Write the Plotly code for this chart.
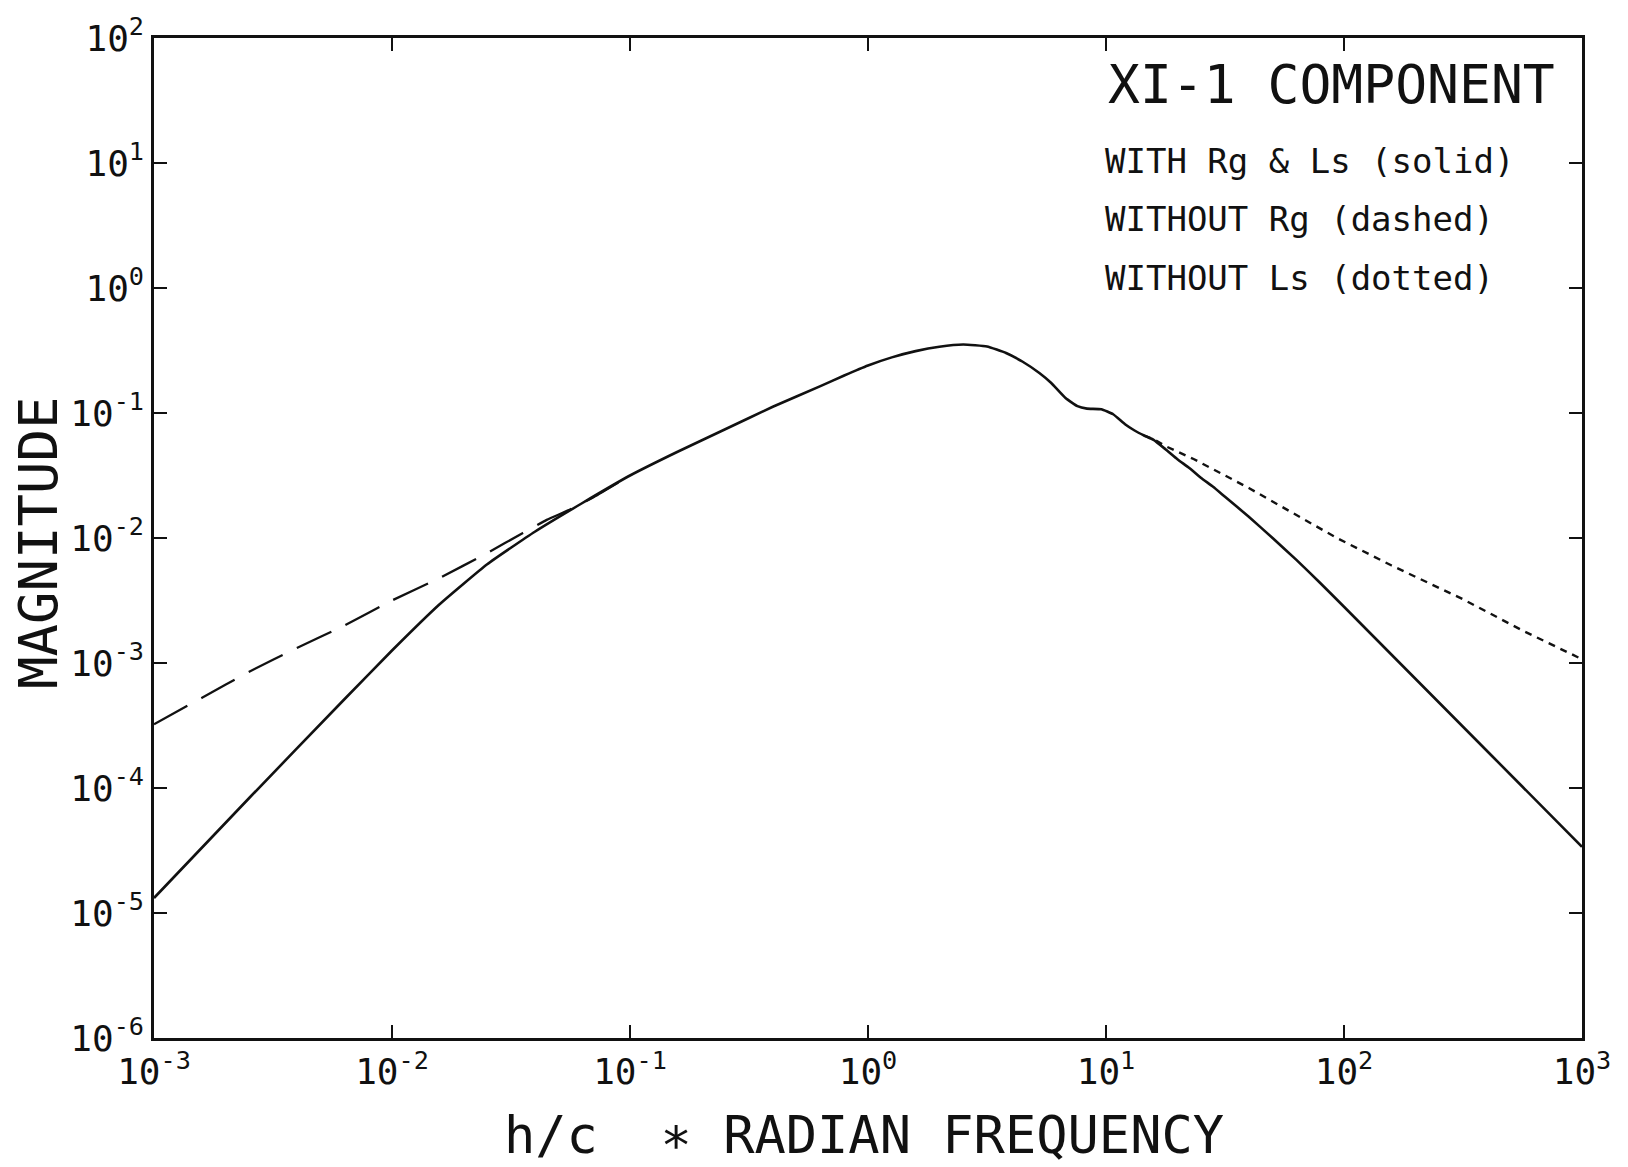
import numpy as np
import plotly.graph_objects as go

# Response curves, stored as log10(h/c * radian frequency) and log10(magnitude)
solid_logw = [-3.0, -2.6, -2.2, -2.0, -1.8, -1.6, -1.4, -1.2, -1.0, -0.8, -0.6,
              -0.4, -0.2, -0.1, 0.0, 0.1, 0.2, 0.3, 0.4, 0.5, 0.58, 0.65,
              0.72, 0.77, 0.83, 0.88, 0.92, 0.98, 1.03, 1.08, 1.12, 1.16, 1.20,
              1.25, 1.30, 1.35, 1.40, 1.45, 1.50, 1.60, 1.70, 1.80, 1.90,
              2.00, 2.25, 2.50, 2.75, 3.00]
solid_logm = [-4.88, -4.08, -3.29, -2.90, -2.53, -2.21, -1.95, -1.72, -1.50, -1.31, -1.13,
              -0.95, -0.785, -0.70, -0.62, -0.555, -0.505, -0.47, -0.452, -0.468, -0.52, -0.59,
              -0.68, -0.76, -0.88, -0.945, -0.965, -0.97, -1.01, -1.09, -1.14, -1.18, -1.215,
              -1.29, -1.37, -1.44, -1.52, -1.59, -1.67, -1.83, -2.00, -2.175, -2.36,
              -2.55, -3.03, -3.51, -3.99, -4.47]

dashed_logw = [-3.0, -2.8, -2.6, -2.4, -2.2, -2.0, -1.8, -1.6, -1.45, -1.35, -1.25, -1.15, -1.0]
dashed_logm = [-3.49, -3.28, -3.07, -2.88, -2.70, -2.50, -2.32, -2.12, -1.96, -1.855, -1.77, -1.67, -1.50]

dotted_logw = [1.16, 1.20, 1.25, 1.37, 1.6, 1.97, 2.2, 2.5, 2.75, 3.0]
dotted_logm = [-1.18, -1.21, -1.265, -1.37, -1.60, -2.00, -2.22, -2.49, -2.74, -2.97]

x_tickvals = [1e-3, 1e-2, 1e-1, 1e0, 1e1, 1e2, 1e3]
x_ticktext = ["10<sup>-3</sup>", "10<sup>-2</sup>", "10<sup>-1</sup>", "10<sup>0</sup>",
              "10<sup>1</sup>", "10<sup>2</sup>", "10<sup>3</sup>"]
y_tickvals = [1e-6, 1e-5, 1e-4, 1e-3, 1e-2, 1e-1, 1e0, 1e1, 1e2]
y_ticktext = ["10<sup>-6</sup>", "10<sup>-5</sup>", "10<sup>-4</sup>", "10<sup>-3</sup>",
              "10<sup>-2</sup>", "10<sup>-1</sup>", "10<sup>0</sup>", "10<sup>1</sup>",
              "10<sup>2</sup>"]

title_text = "XI-1 COMPONENT"
legend_lines = ["WITH Rg &amp; Ls (solid)", "WITHOUT Rg (dashed)", "WITHOUT Ls (dotted)"]
x_title = "h/c  \u2217 RADIAN FREQUENCY"
y_title = "MAGNITUDE"

FONT = "DejaVu Sans Mono, Liberation Mono, monospace"
INK = "#111111"


def pw(vals):
    return np.power(10.0, np.asarray(vals, dtype=float))


fig = go.Figure()
fig.add_trace(go.Scatter(x=pw(dashed_logw), y=pw(dashed_logm), mode="lines",
                         line=dict(color=INK, width=2.3, dash="38px,16px",
                                   shape="spline", smoothing=0.4),
                         showlegend=False))
fig.add_trace(go.Scatter(x=pw(dotted_logw), y=pw(dotted_logm), mode="lines",
                         line=dict(color=INK, width=2.4, dash="7px,6px"),
                         showlegend=False))
fig.add_trace(go.Scatter(x=pw(solid_logw), y=pw(solid_logm), mode="lines",
                         line=dict(color=INK, width=2.6, shape="spline", smoothing=0.4),
                         showlegend=False))

axis_common = dict(
    type="log", showline=True, linecolor=INK, linewidth=2.6, mirror="ticks",
    ticks="inside", ticklen=13, tickwidth=2, tickcolor=INK,
    showgrid=False, zeroline=False,
    tickfont=dict(family=FONT, size=36, color=INK),
)

fig.update_xaxes(range=[-3, 3], tickvals=x_tickvals, ticktext=x_ticktext, **axis_common)
fig.update_yaxes(range=[-6, 2], tickvals=y_tickvals, ticktext=y_ticktext, **axis_common)

annotations = [
    dict(text=title_text, x=0.6667, y=0.9537, xref="paper", yref="paper",
         xanchor="left", yanchor="middle", showarrow=False,
         font=dict(family=FONT, size=53, color=INK)),
]
for txt, ycen in zip(legend_lines, [157.5, 216.0, 274.5]):
    annotations.append(dict(text=txt, x=(1103 - 154) / 1428, y=1 - (ycen - 34) / 1004,
                            xref="paper", yref="paper", xanchor="left", yanchor="middle",
                            showarrow=False, font=dict(family=FONT, size=34, color=INK)))
annotations.append(dict(text=x_title, x=0.497, y=1 - (1135 - 34) / 1004,
                        xref="paper", yref="paper", xanchor="center", yanchor="middle",
                        showarrow=False, font=dict(family=FONT, size=52, color=INK)))
annotations.append(dict(text=y_title, x=(39 - 154) / 1428, y=1 - (540 - 34) / 1004,
                        xref="paper", yref="paper", xanchor="center", yanchor="middle",
                        textangle=-90, showarrow=False,
                        font=dict(family=FONT, size=54, color=INK)))

fig.update_layout(
    width=1628, height=1167,
    margin=dict(l=154, r=46, t=34, b=129),
    paper_bgcolor="white", plot_bgcolor="white",
    annotations=annotations,
)

fig.write_html("out.html")
